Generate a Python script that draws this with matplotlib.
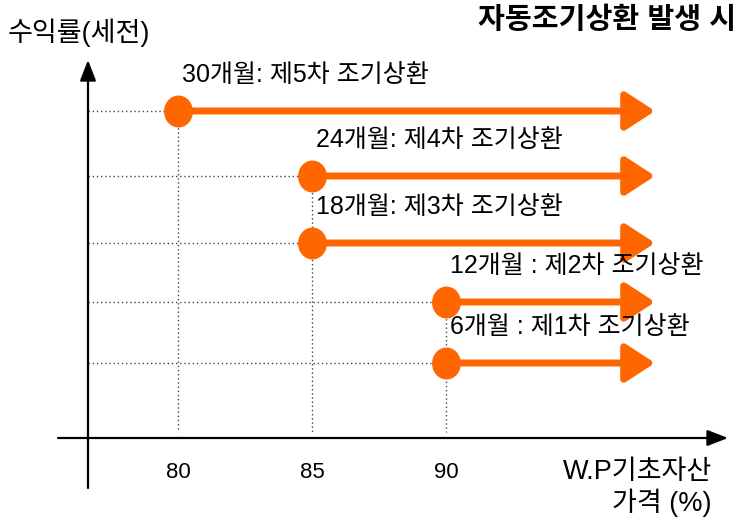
import matplotlib
matplotlib.use("Agg")
import matplotlib.pyplot as plt
from matplotlib.path import Path
from matplotlib.transforms import Affine2D

plt.rcParams['font.family'] = ['Liberation Sans', 'Noto Sans CJK KR', 'DejaVu Sans']

# Data
labels = ["30개월: 제5차 조기상환", "24개월: 제4차 조기상환", "18개월: 제3차 조기상환",
          "12개월 : 제2차 조기상환", "6개월 : 제1차 조기상환"]
barrier = [80, 85, 85, 90, 90]          # W.P 기초자산 가격 (%)
returns = [327, 262, 195, 136, 75]      # relative return level (arbitrary units)
xticks = [80, 85, 90]
arrow_end = 97.8

ORANGE = '#FF6600'

fig = plt.figure(figsize=(7.42, 5.2), dpi=100)
ax = fig.add_axes([0, 0, 1, 1])
px = 26.8  # pixels per x unit
ax.set_xlim(80 - 178 / px, 80 + (742 - 178) / px)
ax.set_ylim(-82, 438)
ax.axis('off')

def X(p):
    return 80 + (p - 178) / px

ellipse = Path.unit_circle().transformed(Affine2D().scale(0.9, 1.0))

x0 = X(88)
# axes with arrows
ax.annotate('', xy=(x0, 438 - 60), xytext=(x0, 438 - 488),
            arrowprops=dict(arrowstyle='-|>,head_length=0.9,head_width=0.35', lw=1.6,
                            color='black', mutation_scale=14, shrinkA=0, shrinkB=0))
ax.annotate('', xy=(X(728), 0), xytext=(X(58), 0),
            arrowprops=dict(arrowstyle='-|>,head_length=0.9,head_width=0.35', lw=1.6,
                            color='black', mutation_scale=14, shrinkA=0, shrinkB=0))

# dotted guides
for b, r in zip(barrier, returns):
    ax.plot([x0, b], [r, r], ls=(0, (1, 2)), color='#444444', lw=1.0, zorder=1)
for t in xticks:
    top = max(r for b, r in zip(barrier, returns) if b == t)
    ax.plot([t, t], [top, 6], ls=(0, (1, 2)), color='#444444', lw=1.0, zorder=1)

# arrows and markers
for b, r, lab in zip(barrier, returns, labels):
    ax.annotate('', xy=(arrow_end, r), xytext=(b, r),
                arrowprops=dict(arrowstyle='-|>,head_length=1.0,head_width=0.65', lw=5,
                                color=ORANGE, mutation_scale=18, shrinkA=0, shrinkB=0),
                zorder=3)
    ax.plot([b], [r], marker=ellipse, ms=22, color=ORANGE, mec=ORANGE, zorder=4)
    ax.text(b + 0.15, r + 24, lab, fontsize=18, ha='left', va='bottom', color='black')

for t in xticks:
    ax.text(t, 438 - 472, str(t), fontsize=16, ha='center', va='center')

ax.text(X(8), 438 - 33, '수익률(세전)', fontsize=19.5, ha='left', va='center')
ax.text(X(736), 438 - 20, '자동조기상환 발생 시', fontsize=21, ha='right', va='center',
        fontweight='bold')
ax.text(X(712), 438 - 472, 'W.P기초자산', fontsize=19.5, ha='right', va='center')
ax.text(X(712), 438 - 503, '가격 (%)', fontsize=19.5, ha='right', va='center')

fig.savefig('out.png', dpi=100)
